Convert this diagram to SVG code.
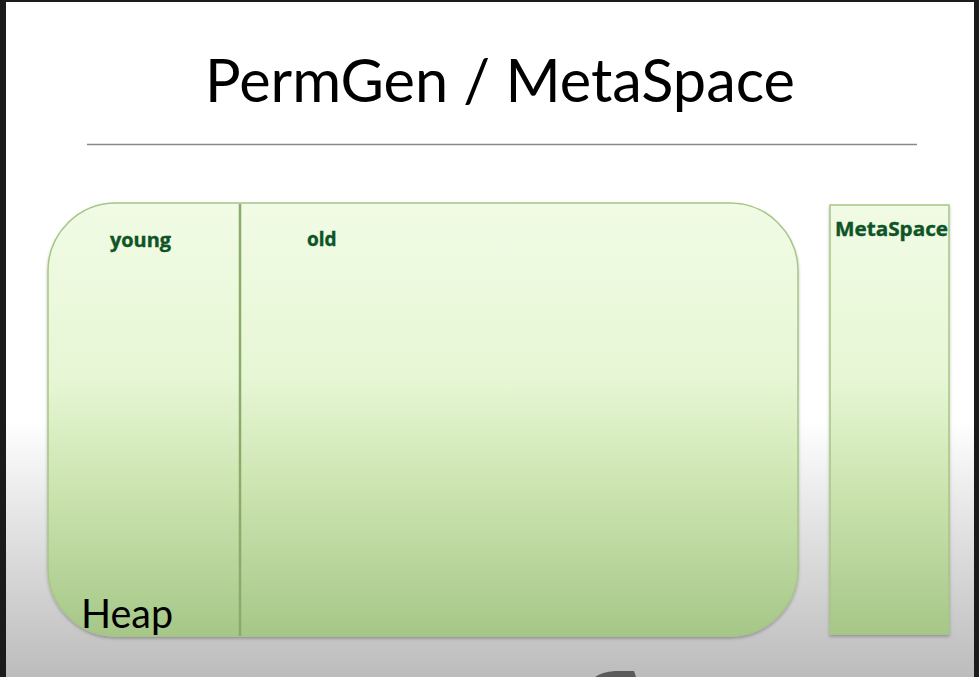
<svg xmlns="http://www.w3.org/2000/svg" width="979" height="677" viewBox="0 0 979 677">
  <defs>
    <linearGradient id="bg" x1="0" y1="0" x2="0" y2="1">
      <stop offset="0" stop-color="#ffffff"/>
      <stop offset="0.62" stop-color="#ffffff"/>
      <stop offset="0.78" stop-color="#e2e2e2"/>
      <stop offset="1" stop-color="#bcbcbc"/>
    </linearGradient>
    <linearGradient id="green" x1="0" y1="0" x2="0" y2="1">
      <stop offset="0" stop-color="#f1fbe5"/>
      <stop offset="0.4" stop-color="#e7f7d5"/>
      <stop offset="0.65" stop-color="#cde5b1"/>
      <stop offset="1" stop-color="#a6c788"/>
    </linearGradient>
    <filter id="shadow" x="-5%" y="-5%" width="110%" height="110%">
      <feDropShadow dx="0" dy="2" stdDeviation="1.5" flood-color="#000" flood-opacity="0.25"/>
    </filter>
  </defs>
  <style>
    .region { fill: url(#green); stroke: #a6c685; stroke-width: 1.5; }
    .label { font-family: "Open Sans", "Liberation Sans", sans-serif; font-weight: bold; font-size: 19px; fill: #0f5427; stroke: #0f5427; stroke-width: 0.4; }
    .gill { font-family: Lato, "Noto Sans", "Liberation Sans", sans-serif; fill: #000; }
  </style>

  <!-- frame and slide background -->
  <rect x="0" y="0" width="979" height="677" fill="#1b1b1b"/>
  <rect x="6" y="2" width="968" height="675" fill="url(#bg)"/>

  <!-- title -->
  <text class="gill" x="205" y="102" font-size="60" textLength="590" lengthAdjust="spacingAndGlyphs">PermGen / MetaSpace</text>
  <line x1="87" y1="144.5" x2="917" y2="144.5" stroke="#8a8a8a" stroke-width="1.5"/>

  <!-- heap -->
  <g id="heap">
    <rect class="region" x="48" y="203" width="750" height="433" rx="68" ry="68" filter="url(#shadow)"/>
    <line x1="240" y1="204" x2="240" y2="636" stroke="#8aab6a" stroke-width="2.5"/>
    <text class="gill" x="81" y="628" font-size="41" textLength="92" lengthAdjust="spacingAndGlyphs">Heap</text>
  </g>
  <g id="young">
    <text class="label" x="110" y="247" textLength="61" lengthAdjust="spacingAndGlyphs">young</text>
  </g>
  <g id="old">
    <text class="label" x="307" y="246">old</text>
  </g>

  <!-- metaspace -->
  <g id="metaspace">
    <rect class="region" x="830" y="205" width="119" height="429" filter="url(#shadow)"/>
    <text class="label" x="835" y="236" textLength="113" lengthAdjust="spacingAndGlyphs">MetaSpace</text>
  </g>

  <!-- pointer tip at bottom edge -->
  <path d="M595 677 Q602 672 615 671 L634 671 L636 677 Z" fill="#5a5a5a"/>
</svg>
